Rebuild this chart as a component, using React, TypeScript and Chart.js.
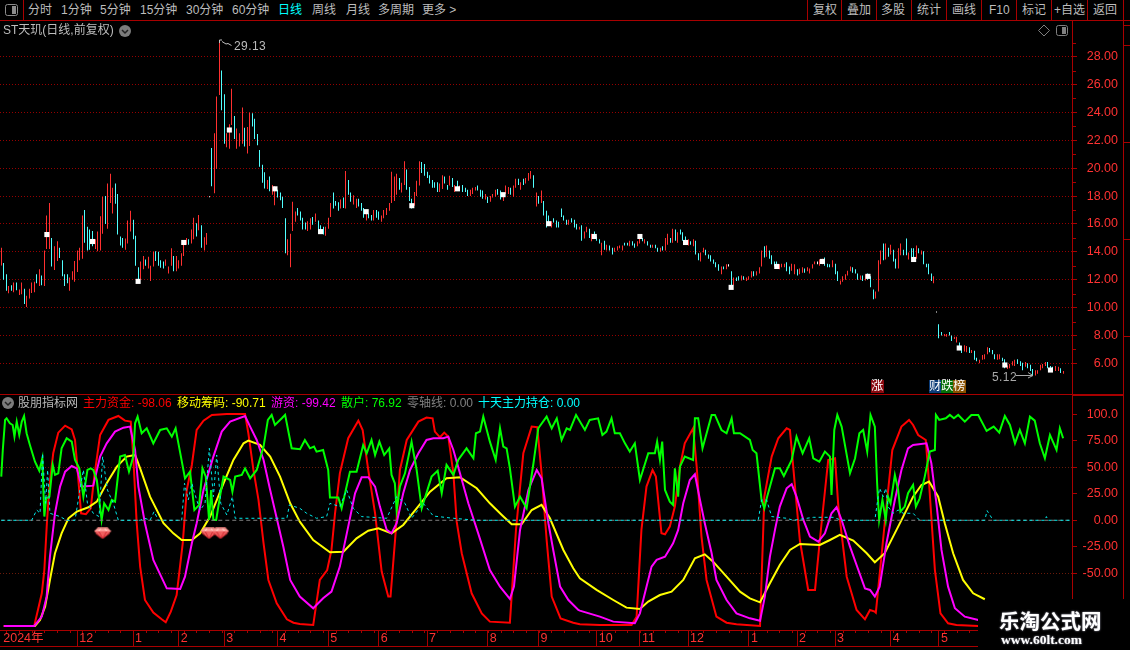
import React, { useEffect, useRef } from "react";
import { Chart, registerables } from "chart.js";
Chart.register(...registerables);

const SLOTS = 423;

const highs = [
14.29,13.2,12.4,11.55,11.6,11.8,11.8,11.3,11.8,11.35,
10.85,11.35,11.8,11.85,12.4,12.75,12.3,14.1,16.6,17.5,
15.0,14.4,14.75,14.3,13.4,12.4,12.4,12.15,12.6,13.35,
14.1,14.3,16.6,17.0,15.8,15.6,15.5,14.9,15.45,16.55,
17.95,18.0,18.9,19.6,18.6,18.9,18.15,15.1,15.0,14.95,
16.25,16.95,16.3,15.15,12.9,13.3,13.7,13.45,13.65,13.0,
14.0,14.05,14.0,13.4,13.3,13.45,12.95,14.25,13.7,13.7,
13.4,13.9,14.75,15.0,14.9,15.6,16.45,16.05,16.65,15.9,
15.05,15.35,17.98,21.45,22.5,25.15,29.13,27.0,25.3,22.5,
23.15,25.7,23.75,22.85,22.5,24.35,22.9,22.95,24.0,23.95,
23.55,22.45,21.3,20.25,19.7,19.15,19.4,18.8,18.7,18.45,
18.25,17.95,16.4,14.9,15.3,17.6,16.9,17.15,16.9,16.45,
16.1,16.2,16.4,16.5,16.75,16.25,15.9,15.8,15.8,16.45,
17.5,18.25,17.65,17.55,17.75,17.9,19.8,19.15,18.25,18.05,
17.8,17.8,17.5,17.15,17.0,16.75,16.65,17,17,16.9,
16.6,17,17.15,17.5,19.75,19.4,19.6,19.3,18.95,20.5,
19.9,18.65,17.8,18.3,19.1,20.5,20.45,20.3,19.75,19.5,
19.15,19,19,18.9,19.5,19.4,18.8,19.45,19.3,18.8,
19.1,18.75,18.8,18.6,18.45,18.45,18.6,18.65,18.75,18.45,
18.4,18.15,17.95,18,18.15,18.45,18.5,18.4,18,18.75,
18.65,18.6,18.75,19.25,19.25,19,19.25,19.3,19.65,19.8,
19.5,18.25,18,18.4,17.65,16.95,16.6,16.2,16.4,16.25,16.15,
17.1,16.6,16.3,16.3,16.4,16.3,16.0,15.8,15.9,15.45,
15.8,15.65,15.3,15.45,15.1,14.9,14.65,14.8,14.5,14.45,
14.3,14.3,14.4,14.45,14.45,14.65,14.65,14.8,14.75,14.6,
14.75,15.0,15.0,14.9,14.75,14.5,14.5,14.5,14.3,14.3,
14.4,15.0,15.3,15.0,15.65,15.6,15.4,15.6,15.4,15.1,
14.9,14.75,14.9,14.8,13.9,13.95,14.3,14.15,13.8,13.75,
13.45,13.25,13.1,12.95,12.95,13.1,13.1,12.6,12.15,12.15,
12.25,12.3,12.25,12.15,12.25,12.6,12.6,12.6,12.9,14.1,
14.4,14.45,14.1,13.75,13.3,13.3,13.1,13.15,13.15,13.25,
12.95,13.15,13.1,12.75,12.8,12.9,12.8,12.9,12.8,13.1,
13.3,13.3,13.45,13.5,13.6,13.15,13.1,13.4,13.15,12.6,
11.95,12.25,12.4,12.65,12.95,12.9,12.75,12.45,12.3,12.3,
12.4,12.45,12.25,11.3,11.15,13.4,14.1,14.6,14.6,14.3,
14.5,14.15,13.5,14.25,14.6,14.15,14.95,13.95,14.25,14.25,
14.45,14.25,14.1,14.05,13.15,13.15,12.45,12.25,9.72,8.8,
8.25,8.1,8.1,8.25,8,7.9,7.9,7.5,7.25,7.3,
7.25,7.15,6.95,6.9,6.4,6.25,6.6,6.65,7.15,7.1,
6.95,6.65,6.65,6.65,6.4,6.3,5.85,5.95,6.15,6.25,
6.3,6.15,6.05,6.1,6,5.9,5.6,5.5,5.5,5.9,
5.95,6.1,6.1,5.8,5.75,5.8,5.75,5.65,5.45];

const lows = [
13.02,12,11.2,11.02,11.2,11.1,11.25,10.9,10.95,10.25,
10.05,10.65,11.05,11.1,11.75,11.55,11.6,11.55,14.2,14.2,
12.95,12.7,13.35,13.55,12.25,11.55,11.75,11.2,12,11.85,
12.55,13.4,13.5,14.65,14.1,14.15,14.4,14.2,14.05,14.1,
15.3,16,15.65,17.5,16.75,17.45,15.25,14.45,14.3,14.15,
14.6,15.45,14.9,13,12,12.05,12.75,13,12.8,11.9,
12.95,13.35,13,12.85,12.8,13,12.45,13,12.6,12.6,
12.8,13,13.7,14.5,14.5,14.6,14.9,15.1,15.55,14.3,
14.1,14.5,17.91,18.7,18.2,19.95,25.25,24.15,21.75,21.5,
21.4,23.1,22.1,21.4,21.55,21.75,21.55,21.05,21.6,23,
22.1,21.65,20.1,18.95,18.55,18.5,18.35,18.1,17.35,17.9,
17.7,17.15,13.9,13.75,12.9,15.5,16.15,16.6,16.25,15.6,
15.6,15.5,15.6,15.95,16.15,15.3,15.5,15.25,15.15,15.65,
16.5,17.1,17.3,16.95,17.1,17.15,17.1,18.1,17.6,17.4,
17.15,17.25,16.95,16.45,16.25,16.4,16.25,16.25,16.45,16.3,
16.15,16.4,16.65,16.95,17.5,17.65,18.1,18.45,18.25,18.8,
18.45,17.65,17.1,17.3,18,18.75,19.65,19.45,19.3,18.9,
18.6,18.6,18.3,18.3,18.5,18.9,18.45,18.75,18.65,18.3,
18.5,18.4,18.3,18.3,18,18,18.15,18.4,18.4,17.95,
17.8,17.75,17.5,17.6,17.9,17.95,18.1,17.75,17.65,18.15,
18.15,18.1,17.95,18.6,18.8,18.45,18.8,18.9,19.1,19.25,
18.6,17.25,17.45,17.5,16.6,15.75,16,15.75,16.1,15.75,15.75,
16.5,16.25,15.95,15.95,16.1,15.75,15.6,15.6,14.8,14.95,
15.4,15.0,14.75,15.05,14.8,14.6,13.75,14.15,14.1,14.1,
13.8,14.0,14.1,14.25,14.1,14.45,14.45,14.4,14.45,14.3,
14.4,14.6,14.75,14.6,14.45,14.3,14.3,14.25,14.0,14.0,
14.1,14.1,14.5,14.65,14.65,14.8,14.65,15.25,14.8,14.8,
14.45,14.5,14.4,13.8,13.4,13.3,13.95,13.75,13.5,13.3,
13.15,12.9,12.65,12.4,12.75,12.75,12.95,11.6,11.6,11.9,
11.95,11.95,12.0,11.9,12.0,12.15,12.25,12.3,12.45,12.95,
13.6,13.65,13.5,13.1,12.95,13.0,12.75,12.9,12.9,12.6,
12.4,12.65,12.4,12.3,12.4,12.5,12.5,12.6,12.45,12.8,
13.1,13.1,13.0,13.1,13.0,12.9,12.9,12.9,12.4,11.9,
11.65,11.85,12,12.3,12.6,12.5,12.45,12,12,11.9,
11.95,12,11.45,10.6,10.65,11.15,13.1,13.4,13.45,13.65,
13.8,13.3,12.8,12.8,13.75,13.75,13.75,13.45,13.5,13.3,
13.5,13.9,13.8,13.1,12.9,12.4,11.9,11.75,9.65,7.8,
8,7.95,7.9,8,7.6,7.75,7.5,6.95,6.75,6.85,
6.8,6.75,6.75,6.25,6.15,6,6.25,6.3,6.65,6.8,
6.65,6.3,6.25,6.3,6.15,5.65,5.6,5.65,5.85,5.8,
5.95,5.8,5.5,5.75,5.65,5.45,5.15,5.12,5.25,5.5,
5.65,5.8,5.65,5.4,5.45,5.45,5.45,5.3,5.25];

const barKinds =
"RCCRCRCRRC"+"RRRRCRCRRR"+"CRRCCCCRRR"+"RRRCCCCRRR"+"RCRRRCCCCR"+"RRCCCRRCRR"+"RCCCCRRRCR"+"RRRRCRRCRC"+"RRWCRRRCCR"+"RRCRRRCRRC"+"CCCCCRCRRC"+
"CCCRRRRCCC"+"CRRCRCCCRR"+"RCCCRCRCCR"+"RCCCRCCRCC"+"RRRRRRRCRR"+"CCCRRRCCCC"+"CCCRRCCRCR"+"CRCCCRRRCC"+"CRCRRRCCRR"+"RCRRCRCRRR"+"CRCRCCCRCCC"+
"CCCRCCCRCR"+"RCRCCCRCRC"+"CRRRRCCRCC"+"RRCRCCRCCR"+"CRRCRCRCCC"+"RCRCCRRCCC"+"CCCRCRWCRC"+"CRCRRRCRRR"+"CRCCCCRRRC"+"CRRCRRCRRR"+"RWRRCCCRCC"+
"RRRRRCCCRC"+"RCCCRRRCRC"+"RCCRRCCRCC"+"RCRCCCCRWC"+"CRRCCRRCCR"+"RCRCCRRRRC"+"CCRRCCRRRR"+"CCCRCCCRRR"+"RRCCCRRCR";

const markerIdx = [18,36,54,72,90,108,126,144,162,180,198,216,234,252,270,288,306,324,342,360,378,396,414];
const markerVal = [15.24,14.74,11.88,14.67,22.74,18.52,15.45,16.88,17.31,18.52,18.1,16.02,15.1,15.1,14.67,11.45,12.95,13.31,12.24,13.45,7.1,5.88,5.52];

const priceTicks = [6,7,8,9,10,11,12,13,14,15,16,17,18,19,20,21,22,23,24,25,26,27,28,29];
const indicatorTicks = [100,75,50,25,0,-25,-50];
const monthIdx = [0,30,52,70,88,109,129,149,168,192,212,235,252,271,295,314,329,351,370];
const monthLabels = ["2024年","12","1","2","3","4","5","6","7","8","9","10","11","12","1","2","3","4","5"];

const redIdx = [1,13,16,17,18,19,20.5,22.5,25.2,27.8,29.1,30,31.5,33.4,35.3,36.7,39,42.3,46.2,48.8,51.1,52.1,53.4,54.8,56.7,60,63.3,64.9,66.9,69.2,71.6,73.2,75.2,77.1,79.8,83.1,89,96.2,97.5,99.5,101.5,103.5,105.4,108.7,112.7,115.3,
117.8,123.1,125.7,128.6,130.3,131.7,133.6,136.9,140.9,142.6,144.8,147.5,150.1,152.7,153.6,155.7,157.3,160,164.6,167.8,170.2,171.1,173.1,174.8,176.4,178.4,179.7,181.7,185.6,189.6,192.8,200.7,203.1,206,209.3,211.5,213.2,215.2,217.2,220.7,225.7,
228.3,236.2,248.7,250.7,252.6,254.6,257,258.3,260.5,261.9,263.8,265.8,267.8,269.7,273,274.4,276.3,278.3,282.2,286.2,290.1,299.4,301.1,304,306.6,309.9,311.2,313.2,315.1,318.4,321.1,323,326.3,329,330.3,333.6,337.5,340.8,342.8,344.7,
345.1,348.6,351.6,355.2,358.2,359.8,361.8,364.8,366.1,368.4,370.6,373.6,376.9,385.5];
const redVal = [-99.7,-99.7,-68.9,-46.9,-2.8,31.8,63.2,82.7,89.3,85.8,75.8,50.6,6.6,5.7,11.3,41.2,80.5,94.7,98.4,94,93.1,60,-1.3,-43.7,-75.2,-87.1,-93.4,-96.2,-86.2,-70.5,-21.7,28.6,52.2,85.2,94,99.4,100.3,100.3,82.1,47.5,19.2,-21.7,-56.3,-78.3,-93.4,-96.6,
-97.8,-98.8,-56.3,-46.9,-28,6.6,44.3,77.4,94,85.2,47.5,6.6,-48.4,-72,-72,-9.1,47.5,75.8,93.1,96.9,96.2,83.7,78.3,82.7,78.9,44.3,-1.3,-31.1,-68.9,-87.8,-95.6,-96.6,-9.1,63.2,88.4,87.8,44.3,-18.6,-72,-92.5,-96.6,
-98.1,-98.8,-98.8,-90.9,-9.1,31.8,47.5,41.2,-12.3,-13.2,-6,12.9,50.6,72.6,86.8,50.6,-15.4,-56.3,-90.9,-96.6,-98.1,-99.7,22.3,60.1,77.4,86.8,85.2,31.8,-18.6,-65.7,-65.7,-18.6,56.9,58.5,12.9,-53.2,-84.6,-93.4,-84.6,-86.2,
-87.1,-2.8,66.3,88.4,94.7,89.9,80.5,75.8,34.9,-46.9,-87.8,-97.2,-98.8,-99.7];

const magentaIdx = [1,13,16,17.9,19.2,21.2,23.2,25.2,27.8,29.8,31.7,36.3,39,41.6,44.9,48.2,50.8,52.8,54.1,56.7,60,65.3,70.6,72.5,75.2,77.1,79.8,83.7,87,90.3,96.2,98.2,100.8,103.5,106.1,108.7,111.3,114,
117.8,123.1,127,130.3,133.6,136.9,139.6,142.2,144.8,147.5,149.4,152.1,154,156,158.6,161.3,164.6,167.8,170.5,174.4,176.4,178.4,181,184.3,188.2,192.8,196.8,200.7,202.3,204.7,208,211.3,213.2,215.9,217.8,220.5,223.8,227.7,
228.3,236.2,241.5,250,252,254.6,256.6,258.6,261.9,265.1,267.1,269.1,271.7,273.7,275.7,277.6,280.3,282.2,286.2,290.1,295.4,299.4,301.3,303.3,305.3,307.2,309.9,311.9,313.8,316.5,319.1,322.4,325,327.6,329.6,331.6,334.9,338.2,340.8,342.8,344.7,
346.6,349.3,352.6,355.2,357.8,359.8,365.1,367,369,371,373.6,376.3,380.2,385.5];
const magentaVal = [-99.7,-99.7,-90.9,-72,-34.3,6.6,31.8,45.9,51.2,49,31.8,32.7,60.1,72.6,83.7,87.4,88.4,66.3,31.8,-2.8,-37.4,-64.2,-64.8,-53.2,-21.7,-2.8,28.6,60.1,83.7,93.1,98.4,88.4,75.8,56.9,28.6,1.9,-24.9,-56.3,
-72,-83,-73.6,-67.3,-43.7,-6,25.5,40.6,40.6,31.8,12.9,-9.1,-12.3,-2.8,25.5,47.5,63.2,75.8,77.4,77.4,78.9,66.3,44.3,16,-12.3,-46.9,-62.6,-74.2,-62.6,-9.1,28.6,47.5,39.6,-2.8,-28,-62.6,-75.2,-84.6,
-85.2,-90.9,-95.6,-97.2,-87.8,-62.6,-43.7,-37.4,-34.3,-21.7,-9.1,16,38,43.4,19.2,-2.8,-31.1,-56.3,-75.2,-87.8,-92.5,-94.7,-72,-34.3,-9.1,12.9,30.2,34,22.3,0.3,-15.4,-20.1,-12.3,6.6,12.3,0.3,-24.9,-46.9,-64.2,-65.7,-72,
-62.6,-21.7,19.2,47.5,67.9,71.1,72.6,53.8,16,-28,-62.6,-83,-90.9,-94];

const yellowIdx = [1,13.3,15.3,17.3,19.2,21.2,23.8,26.5,29.8,34.4,37.7,41.6,45.6,49.5,52.8,54.8,58.7,64,67.9,71.2,75.2,78.5,82.4,87.7,91.6,95.6,97.5,102.1,106.1,110,114,
117.8,123.1,129.7,135,140.2,144.8,148.8,154,158.6,163.9,169.2,175.7,181,187.6,192.8,197.5,201.4,205.3,209.3,213.2,216.5,221.8,225.7,
228.3,234.9,241.5,246.7,252,255.3,259.9,264.5,269.1,273.7,277.6,280.9,286.2,291.5,295.4,299.4,303.3,307.2,311.2,315.1,323,327,330.9,336.2,341.5,344.7,
348.6,351.9,355.9,359.8,363.1,366.1,369.7,372.3,375.6,379.5,383.5,388.1];
const yellowVal = [-99.7,-99.7,-94,-81.5,-56.3,-31.1,-12.3,1.9,8.2,12.3,17.6,34.9,50.6,60.1,61.6,49,22.3,-2.8,-12.3,-18.6,-18.6,-12.3,3.5,34.9,56.9,72.6,75.2,71.1,60.1,41.2,16,
-1.3,-18.6,-30.2,-29.6,-17,-9.8,-7.5,-12.3,-4.4,11.3,27,39.6,40.6,30.2,16,5,-3.8,-3.8,9.7,14.5,1.9,-28,-45.3,
-54.7,-65.7,-75.2,-82.4,-83.7,-76.7,-70.5,-67.3,-56.3,-35.9,-32.1,-39,-53.2,-67.3,-73.6,-77.4,-59.4,-42.2,-28,-22.3,-23.3,-18.6,-13.8,-19.2,-31.1,-39.6,
-31.1,-15.4,3.5,22.3,33.3,36.5,22.3,-2.8,-31.1,-56.3,-68.9,-74.5];

const greenIdx = [0,0.6,1.5,2.1,3.4,4.5,5.2,6.1,7.1,8.1,9,10,11.3,13.3,15,16.2,17,17.7,19,20.3,21.2,22.5,23.8,25.8,27.8,29.1,30.8,32.4,34,35.3,36.3,37.7,39.6,40.6,42.3,43.6,44.9,46.9,48.8,50.4,52.1,52.8,53.8,55.4,57.4,60,62.7,65.3,67.3,68.8,69.9,72.5,74.5,76.2,78.1,79.4,80.7,82,82.8,83.7,84.8,86.3,87.7,90.3,91.2,92.3,94.9,96.2,98.2,100.8,103.5,105.2,106.7,108,110.7,112,114.6,117.9,
119.8,121.8,123.4,124.4,127,129,129.7,133,134.3,137.6,140.2,142.8,144.2,146.1,147.5,149.2,151.1,153.1,154,155.3,156,157.3,159.3,161.9,163.9,165.9,169.8,172.2,173.8,175.7,178.4,180.3,183.6,186.3,187.3,188.9,190.2,192.8,195.1,196.8,198.1,199.4,200.7,202.7,204.7,207.3,210,211.9,215.2,217.2,219.2,221.1,223.1,224.4,226.8,230.3,
232.2,235.5,237.2,238.8,240.8,242.1,244.1,246.1,248,250,252,255.3,257.9,258.8,259.9,260.8,261.9,263.8,265.1,265.8,267.1,267.8,269.7,273,273.7,275,276.7,280.3,281.6,284.2,286.2,288.2,289.1,291.5,295.4,296.5,298,300,301.1,302.2,305.3,307.2,308.8,311.9,313.8,316.2,318.8,320.4,322.8,325,327,327.6,328.7,329.9,331.6,334.9,336.9,338.6,340.1,341.7,343,344.7,
345.6,346.4,347.7,349,349.9,350.9,352.6,353.9,354.8,356.5,357.8,359.8,360.9,362.4,364.4,366.4,368.4,368.8,370.1,372.7,374.3,375.9,377.6,380.2,382.8,385.5,388.8,391.6,393.8,396,398,400,401.9,403.9,405.9,407.8,409.8,411.8,413.8,416.4,417.7,419];
const greenVal = [41.2,66.3,94.7,96.2,91.5,89.9,78.9,93.1,80.5,93.1,98.4,82.1,71.1,55.3,46.8,58.5,3.5,20.7,22.3,52.2,42.8,44.3,67.9,77.4,74.2,56.9,49,22.3,47.5,49,47.5,38,0.3,16,9.7,19.2,17.6,60.1,61.6,45.9,60.1,91.5,97.8,82.1,86.8,72.6,85.2,86.8,78.9,86.8,72.6,39.6,45.9,9.7,14.5,49,41.2,0.3,28.6,0.3,0.3,22.3,41.2,38,27,41.2,42.8,49,39.6,47.5,69.5,94.7,99.4,89.9,96.2,99.4,67.9,67,
75.8,67.9,69.5,64.8,66.3,47.5,21.4,21.4,11.3,45.9,45.9,71,63.2,75.8,61.6,74.2,61.6,67.9,42.8,34.9,9.7,31.8,44.3,74.2,47.5,11.3,41.2,46.8,25.5,52.2,42.8,56.9,67.9,58.5,82.1,83.7,97.8,74.2,56.9,86.8,69.5,67.9,49,12.9,22.3,11.3,53.8,86.8,97.8,86.8,96.2,75.8,86.8,85.2,99.4,85.2,
94.7,96.2,80.5,83.7,96.2,82.1,82.1,72.6,64.8,72.6,38,63.2,63.2,74.2,56.9,74.2,28.6,17.6,14.5,49,22.3,50.6,60.1,56.9,96.2,96.2,67.9,99.4,99.4,85.2,82.1,96.2,82.1,82.1,75.8,66.3,63.2,19.2,11.3,22.3,49,49,41.8,56.9,78.9,63.2,77.4,58.5,55.3,64.8,60.1,23.9,85.2,99.4,88.4,44.3,58.5,82.1,85.2,64.8,99.4,88.4,
34.9,0.3,19.2,0.3,22.3,16,42.8,28.6,8.2,12.9,25.5,33.3,12.9,20.7,41.2,64.8,66.3,99.4,94.7,96.2,99.4,96.2,99.4,93.1,99.4,99.4,84.3,88.4,82.7,98.4,89.9,72.6,85.2,72.6,97.8,94,72.6,58.5,80.5,66.3,86.8,77.4];

const cyanIdx = [0,12,14,15.3,16.3,17.5,18.3,19.2,23.2,25.8,29.1,31,32.4,34,36.3,38.6,40,41.9,44.2,46.2,54.8,56.7,58.7,60.3,62,71.2,72.3,73.8,75.2,77.1,78.5,80.4,82.1,83.7,85,86.6,89,91.2,92.3,112.7,113.7,
117.8,120.5,124.4,128.4,129.7,133.6,136.3,138.9,142.2,152.1,156,159.3,161.9,166.5,170.5,178.4,187.6,
298.7,300,302,304,309.9,312.5,320.4,328.3,331.6,344.7,346,346.6,348,349,349.9,351.9,353.9,355.9,359.8,362.4,388.1,389,391.4,411.8,412.4,413.1,422];
const cyanVal = [0,0,9.7,6.6,63.2,16,47.5,6.6,3.5,0,0,28.6,47.5,16,6.6,3.5,60.1,28.6,16,0,0,1.9,0,8.2,0,0,34.9,19.2,34.9,19.2,9.7,16,67.9,22.3,61.6,16,5,22.3,1.9,1.9,14.5,
11.3,6.6,1.9,3.5,16,12.9,28.6,11.3,3.5,1.9,22.3,16,1.9,16,4,1.9,0,
0,19.2,19.2,3.5,1.9,0,2.8,2.8,0,0,22.3,30.2,22.3,30.2,12.9,6.6,9.7,6.6,6.6,0,0,9.1,0,0,3.5,0,0];

const zeroIdx = [0, 422];
const zeroVal = [0, 0];
const gemIdx = [40, 82, 86.5];
const gemVal = [-12.3, -12.3, -12.3];

const RED_LINE = "#a80000";
const AXIS_TEXT = "#ff3232";
const CJK = '"Liberation Sans","Noto Sans CJK SC",sans-serif';

const pts = (xs: number[], ys: number[]) => xs.map((x, i) => ({ x, y: ys[i] }));

function makeGem() {
  const c = document.createElement("canvas");
  c.width = 18; c.height = 12;
  const g = c.getContext("2d")!;
  g.fillStyle = "#f06060";
  g.beginPath(); g.moveTo(4,0.5); g.lineTo(14,0.5); g.lineTo(17.5,4); g.lineTo(9,11.5); g.lineTo(0.5,4); g.closePath(); g.fill();
  g.fillStyle = "#ff9c98";
  g.beginPath(); g.moveTo(4,0.5); g.lineTo(14,0.5); g.lineTo(17.5,4); g.lineTo(0.5,4); g.closePath(); g.fill();
  g.strokeStyle = "#d02830"; g.lineWidth = 1;
  g.beginPath(); g.moveTo(5,4); g.lineTo(9,11); g.lineTo(13,4); g.moveTo(2,6); g.lineTo(9,11); g.lineTo(16,6); g.stroke();
  g.strokeStyle = "#ffe0d8";
  g.beginPath(); g.moveTo(5,4); g.lineTo(7,1); g.moveTo(13,4); g.lineTo(11,1); g.stroke();
  return c;
}

const snapBars = {
  id: "snapBars",
  beforeDatasetsDraw(chart: any) {
    const meta = chart.getDatasetMeta(0);
    if (meta.type !== "bar") return;
    meta.data.forEach((b: any) => { b.x = Math.floor(b.x) + 0.5; });
  },
};

const minorPriceTicks = {
  id: "minorPriceTicks",
  afterDraw(chart: any) {
    const y = chart.scales.y; const g = chart.ctx;
    if (chart.canvas.dataset.kind !== "price") return;
    g.save(); g.strokeStyle = RED_LINE; g.lineWidth = 1; g.beginPath();
    priceTicks.forEach((v) => {
      if (v % 2 === 0) return;
      const p = Math.round(y.getPixelForValue(v)) + 0.5;
      g.moveTo(1072, p); g.lineTo(1076, p);
    });
    g.stroke(); g.restore();
  },
};

const weekTicks = {
  id: "weekTicks",
  afterDraw(chart: any) {
    if (chart.canvas.dataset.kind !== "indicator") return;
    const x = chart.scales.x; const g = chart.ctx; const top = chart.chartArea.bottom;
    g.save(); g.strokeStyle = RED_LINE; g.lineWidth = 1; g.beginPath();
    for (let i = 2; i < SLOTS; i += 5) {
      const p = Math.round(x.getPixelForValue(i)) + 0.5;
      g.moveTo(p, top); g.lineTo(p, top + 3);
    }
    g.stroke(); g.restore();
  },
};

function T({ x, y, c = "#c4c4c4", s = 12, children, style }: any) {
  return (
    <span style={{ position: "absolute", left: x, top: y - 10, height: 20, lineHeight: "20px", fontSize: s, color: c, whiteSpace: "nowrap", fontFamily: CJK, ...style }}>
      {children}
    </span>
  );
}

function Box({ x, y, w, h, c = RED_LINE, z = 3 }: any) {
  return <div style={{ position: "absolute", left: x, top: y, width: w, height: h, background: c, zIndex: z }} />;
}

const Chevron = ({ x, y }: any) => (
  <svg style={{ position: "absolute", left: x - 6, top: y - 6 }} width={12} height={12}>
    <circle cx={6} cy={6} r={6} fill="#7c7c7c" />
    <path d="M3 5 L6 8 L9 5" stroke="#222" strokeWidth={1.5} fill="none" />
  </svg>
);

const toolLeft: [string, number, string?][] = [["分时",28],["1分钟",61],["5分钟",100],["15分钟",140],["30分钟",186],["60分钟",232],["日线",278,"#00ffff"],["周线",312],["月线",346],["多周期",378],["更多 >",422]];
const toolRight: [string, number][] = [["复权",813],["叠加",847],["多股",881],["统计",917],["画线",952],["F10",989],["标记",1022],["+自选",1054],["返回",1093]];
const toolSeps = [23,807,841,876,911,946,981,1016,1051,1087,1123];
const sideSeps = [25,45,142,239,336];
const legend: [string, number, string][] = [
  ["股朋指标网",18,"#b8b8b8"],["主力资金: -98.06",83,"#ff0000"],["移动筹码: -90.71",177,"#ffff00"],["游资: -99.42",271,"#ff00ff"],
  ["散户: 76.92",341,"#00ff00"],["零轴线: 0.00",407,"#808080"],["十天主力持仓: 0.00",478,"#00ffff"],
];
const tags: [string, number, string][] = [["涨",871,"#8a0a10"],["财",929,"#0c3c78"],["跌",941,"#067008"],["榜",953,"#8a5200"]];

const fitRightAxis = (s: any) => {
  s.width = 46;
  s.paddingTop = 0; s.paddingBottom = 0; s.paddingLeft = 0; s.paddingRight = 0;
};

export default function App() {
  const topRef = useRef<HTMLCanvasElement>(null);
  const botRef = useRef<HTMLCanvasElement>(null);

  useEffect(() => {
    const labels = Array.from({ length: SLOTS }, (_, i) => String(i));
    const candleData = labels.map((_, i) => (i < highs.length ? [lows[i], highs[i]] : null));
    const candleColors = labels.map((_, i) => {
      const k = barKinds[i];
      return k === "R" ? "#ff3030" : k === "C" ? "#50ffff" : "#ffffff";
    });
    const markerData = labels.map((_, i) => {
      const k = markerIdx.indexOf(i);
      return k >= 0 ? markerVal[k] : null;
    });
    const font = { family: '"Liberation Sans","Noto Sans CJK SC",sans-serif', size: 12.5 };
    const top = new Chart(topRef.current!, {
      type: "bar",
      data: {
        labels,
        datasets: [
          { type: "bar", data: candleData as any, backgroundColor: candleColors, barThickness: 1, inflateAmount: 0, order: 2 } as any,
          { type: "line", data: markerData as any, showLine: false, pointStyle: "rect", pointRadius: 3.6, pointBackgroundColor: "#fff", pointBorderWidth: 0, order: 1 } as any,
        ],
      },
      options: {
        responsive: false, animation: false, devicePixelRatio: 1,
        layout: { padding: 0, autoPadding: false },
        plugins: { legend: { display: false }, tooltip: { enabled: false } },
        scales: {
          x: { display: false, grid: { display: false } },
          y: {
            position: "right", min: 3.8, max: 30.56,
            afterBuildTicks: (a: any) => { a.ticks = priceTicks.map((value) => ({ value })); },
            afterFit: fitRightAxis,
            border: { display: false, dash: [1, 2] },
            grid: {
              color: (c: any) => (c.tick && c.tick.value % 2 === 0 ? "#960000" : "transparent"),
              tickColor: (c: any) => (c.tick && c.tick.value % 2 === 0 ? RED_LINE : "transparent"),
              tickLength: 5,
            },
            ticks: {
              color: AXIS_TEXT, font, crossAlign: "far", padding: 4, autoSkip: false,
              callback: (v: any) => (Number(v) % 2 === 0 ? Number(v).toFixed(2) : ""),
            },
          },
        },
      } as any,
      plugins: [snapBars, minorPriceTicks],
    });

    const bot = new Chart(botRef.current!, {
      type: "line",
      data: {
        datasets: [
          { data: pts(gemIdx, gemVal), showLine: false, pointStyle: makeGem(), pointRadius: 8 },
          { data: pts(cyanIdx, cyanVal), borderColor: "#00e8e8", borderWidth: 1, borderDash: [3, 3], pointRadius: 0 },
          { data: pts(zeroIdx, zeroVal), borderColor: "#808080", borderWidth: 1, borderDash: [4, 3], pointRadius: 0 },
          { data: pts(greenIdx, greenVal), borderColor: "#00ff00", borderWidth: 2, pointRadius: 0 },
          { data: pts(magentaIdx, magentaVal), borderColor: "#ff00ff", borderWidth: 2, pointRadius: 0 },
          { data: pts(yellowIdx, yellowVal), borderColor: "#ffff00", borderWidth: 2, pointRadius: 0 },
          { data: pts(redIdx, redVal), borderColor: "#ff0000", borderWidth: 2, pointRadius: 0 },
        ] as any,
      },
      options: {
        responsive: false, animation: false, devicePixelRatio: 1,
        layout: { padding: 0, autoPadding: false },
        plugins: { legend: { display: false }, tooltip: { enabled: false } },
        scales: {
          x: {
            type: "linear", min: -0.5, max: SLOTS - 0.5,
            afterBuildTicks: (a: any) => { a.ticks = monthIdx.map((value) => ({ value })); },
            afterFit: (s: any) => { s.height = 16; s.paddingLeft = 0; s.paddingRight = 0; },
            border: { color: RED_LINE },
            grid: {
              drawOnChartArea: false, tickLength: 16,
              tickColor: (c: any) => (c.tick && c.tick.value === 0 ? "transparent" : RED_LINE),
            },
            ticks: {
              color: AXIS_TEXT, font, align: "start", padding: -15, labelOffset: 2, autoSkip: false, maxRotation: 0,
              callback: (v: any) => { const k = monthIdx.indexOf(Number(v)); return k >= 0 ? monthLabels[k] : ""; },
            },
          },
          y: {
            position: "right", min: -103.5, max: 118.2,
            afterBuildTicks: (a: any) => { a.ticks = indicatorTicks.map((value) => ({ value })); },
            afterFit: fitRightAxis,
            border: { display: false, dash: [1, 2] },
            grid: {
              color: (c: any) => (c.tick && Math.abs(c.tick.value) === 50 ? "#6a1a0a" : "transparent"),
              tickColor: RED_LINE, tickLength: 5,
            },
            ticks: {
              color: AXIS_TEXT, font, crossAlign: "far", padding: 4, autoSkip: false,
              callback: (v: any) => (Number(v) === 100 ? "100.0" : Number(v).toFixed(2)),
            },
          },
        },
      } as any,
      plugins: [weekTicks],
    });
    return () => { top.destroy(); bot.destroy(); };
  }, []);

  return (
    <div style={{ position: "fixed", left: 0, top: 0, width: 1130, height: 650, background: "#000", overflow: "hidden" }}>
      <canvas ref={topRef} data-kind="price" width={1118} height={373} style={{ position: "absolute", left: 0, top: 21, display: "block" }} />
      <canvas ref={botRef} data-kind="indicator" width={1118} height={251} style={{ position: "absolute", left: 0, top: 395, display: "block" }} />

      <Box x={0} y={20} w={1130} h={1} />
      {toolSeps.map((x) => <Box key={x} x={x} y={0} w={1} h={20} />)}
      <Box x={0} y={394} w={1123} h={1} />
      <Box x={1072} y={394} w={51} h={2} />
      <Box x={0} y={646} w={978} h={1} />
      <Box x={1072} y={20} w={1} h={590} />
      <Box x={1123} y={20} w={1} h={630} />
      {sideSeps.map((y) => <Box key={y} x={1123} y={y} w={7} h={1} />)}

      <svg style={{ position: "absolute", left: 5, top: 4 }} width={14} height={12}>
        <rect x={0.5} y={0.5} width={12} height={11} rx={2} fill="none" stroke="#8c8c8c" />
        <rect x={7} y={2} width={4} height={8} fill="#8c8c8c" />
      </svg>
      {toolLeft.map(([t, x, c]) => <T key={t} x={x} y={10} c={c || "#bdbdbd"}>{t}</T>)}
      {toolRight.map(([t, x]) => <T key={t} x={x} y={10} c="#bdbdbd">{t}</T>)}

      <T x={3} y={30} c="#bdbdbd">ST天玑(日线,前复权)</T>
      <Chevron x={125} y={31} />
      <svg style={{ position: "absolute", left: 1038, top: 24 }} width={34} height={14}>
        <path d="M6 1 L11.5 6.5 L6 12 L0.5 6.5 Z" fill="none" stroke="#808080" />
        <rect x={18.5} y={1.5} width={11} height={10} rx={2} fill="none" stroke="#808080" />
        <rect x={24} y={3} width={4} height={7} fill="#808080" />
      </svg>

      <svg style={{ position: "absolute", left: 0, top: 0, zIndex: 2 }} width={1130} height={400}>
        <path d="M219.5 43 L219.5 40 L222 40 M222 41.5 L226 44 L228 43.5 L231.5 45.5" stroke="#c0c0c0" fill="none" />
        <path d="M1016 375.5 L1033 375.5 M1028 372.5 L1033 375.5 L1028 378" stroke="#a8a8a8" fill="none" />
      </svg>
      <T x={234} y={46} c="#bdbdbd" style={{ letterSpacing: 0.4 }}>29.13</T>
      <T x={992} y={377} c="#a8a8a8" style={{ letterSpacing: 0.4 }}>5.12</T>

      {tags.map(([t, x, c]) => (
        <span key={t} style={{ position: "absolute", left: x, top: 380, width: 12.5, height: 13, background: c, color: "#fff", fontSize: 12, lineHeight: "13px", fontFamily: CJK, textAlign: "center" }}>{t}</span>
      ))}

      <Chevron x={8} y={403} />
      {legend.map(([t, x, c]) => <T key={t} x={x} y={403} c={c}>{t}</T>)}

      <Box x={985} y={599} w={145} h={51} c="#000" z={5} />
      <Box x={978} y={610} w={8} h={40} c="#000" z={5} />
      <span style={{ position: "absolute", zIndex: 6, left: 999, top: 607, fontSize: 20.5, lineHeight: "26px", fontWeight: 700, color: "#fff", fontFamily: '"Noto Sans CJK SC",sans-serif', whiteSpace: "nowrap", textShadow: "0 0 2px #aab" }}>乐淘公式网</span>
      <span style={{ position: "absolute", zIndex: 6, left: 1001, top: 632, fontSize: 13.5, lineHeight: "16px", fontWeight: 700, color: "#fff", fontFamily: '"Liberation Serif",serif', whiteSpace: "nowrap", textShadow: "0 0 2px #aab" }}>www.60lt.com</span>
    </div>
  );
}
